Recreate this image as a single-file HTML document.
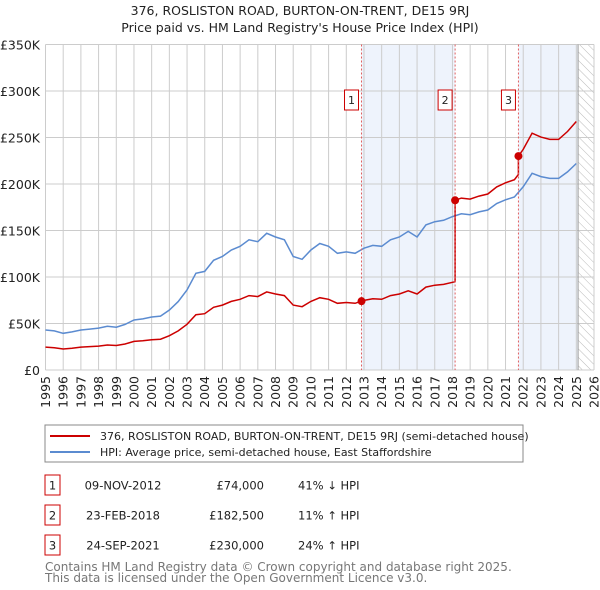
<!DOCTYPE html>
<html><head><meta charset="utf-8"><style>
body{margin:0;background:#fff;font-family:"Liberation Sans","DejaVu Sans",sans-serif;}
#wrap{position:relative;width:600px;height:590px;overflow:hidden;}
svg text{font-family:"DejaVu Sans","Liberation Sans",sans-serif;}
</style></head><body><div id="wrap">
<svg id="chart" width="600" height="590">
<defs><pattern id="hatch" width="6" height="6" patternUnits="userSpaceOnUse" patternTransform="rotate(-45)"><line x1="0" y1="0" x2="0" y2="6" stroke="#bbb" stroke-width="1"/></pattern></defs>
<text x="300" y="15" text-anchor="middle" font-size="12.5" fill="#222">376, ROSLISTON ROAD, BURTON-ON-TRENT, DE15 9RJ</text>
<text x="300" y="32" text-anchor="middle" font-size="12.5" fill="#222">Price paid vs. HM Land Registry's House Price Index (HPI)</text>
<g id="bg"></g><g id="grid"></g><g id="series"></g><g id="marks"></g><g id="axes"></g>
<rect x="45" y="425" width="478" height="37" fill="#fff" stroke="#888"/>
<line x1="50" y1="436" x2="90" y2="436" stroke="#cc0000" stroke-width="2"/>
<text x="100" y="440" font-size="11" fill="#222">376, ROSLISTON ROAD, BURTON-ON-TRENT, DE15 9RJ (semi-detached house)</text>
<line x1="50" y1="452" x2="90" y2="452" stroke="#5b8bd0" stroke-width="2"/>
<text x="100" y="456" font-size="11" fill="#222">HPI: Average price, semi-detached house, East Staffordshire</text>
<g id="table" font-size="11.5" fill="#222"></g>
<text x="45" y="571" font-size="12" fill="#777">Contains HM Land Registry data © Crown copyright and database right 2025.</text>
<text x="45" y="582" font-size="12" fill="#777">This data is licensed under the Open Government Licence v3.0.</text>
</svg></div>
<script>
const hpiYears=[1995,1995.5,1996,1996.5,1997,1997.5,1998,1998.5,1999,1999.5,2000,2000.5,2001,2001.5,2002,2002.5,2003,2003.5,2004,2004.5,2005,2005.5,2006,2006.5,2007,2007.5,2008,2008.5,2009,2009.5,2010,2010.5,2011,2011.5,2012,2012.5,2013,2013.5,2014,2014.5,2015,2015.5,2016,2016.5,2017,2017.5,2018,2018.5,2019,2019.5,2020,2020.5,2021,2021.5,2022,2022.5,2023,2023.5,2024,2024.5,2025];
const hpiValues=[43,42,39.5,41,43,44,45,47,46,49,53.8,55,57,58,64.5,73.5,86,104,106,118,122,129,133,140,138,147,143,140,122,119,129,136,133,125.5,127,125.5,131,134,133,140,143,149,143,156,159.5,161,165,168,167,170,172,179,183,186,197,211.5,208,206,206,213,222];
const saleYears=[2012.86,2018.15,2021.73];
const salePrices=[74,182.5,230];
const saleLabels=["1","2","3"];
const saleDates=["09-NOV-2012","23-FEB-2018","24-SEP-2021"];
const salePriceText=["£74,000","£182,500","£230,000"];
const saleHpiText=["41% ↓ HPI","11% ↑ HPI","24% ↑ HPI"];
const yTicks=[0,50,100,150,200,250,300,350];
const yTickLabels=["£0","£50K","£100K","£150K","£200K","£250K","£300K","£350K"];
const xTicks=[1995,1996,1997,1998,1999,2000,2001,2002,2003,2004,2005,2006,2007,2008,2009,2010,2011,2012,2013,2014,2015,2016,2017,2018,2019,2020,2021,2022,2023,2024,2025,2026];
const NS="http://www.w3.org/2000/svg";
const X0=45.5,X1=594,Y0=370,Y1=44.5;
const xs=v=>X0+(v-1995)*(X1-X0)/31;
const ys=v=>Y0-v*(Y0-Y1)/350;
function mk(tag,attrs,parent){const e=document.createElementNS(NS,tag);for(const k in attrs)e.setAttribute(k,attrs[k]);document.getElementById(parent).appendChild(e);return e;}
function hpiAt(t){for(let i=0;i<hpiYears.length-1;i++){if(t<=hpiYears[i+1]){const f=(t-hpiYears[i])/(hpiYears[i+1]-hpiYears[i]);return hpiValues[i]+f*(hpiValues[i+1]-hpiValues[i]);}}return hpiValues[hpiValues.length-1];}
let s1=mk('rect',{x:xs(saleYears[0]),y:Y1,width:xs(saleYears[1])-xs(saleYears[0]),height:Y0-Y1,fill:'#eef3fc'},'bg');


let s2=mk('rect',{x:xs(saleYears[2]),y:Y1,width:xs(2025.1)-xs(saleYears[2]),height:Y0-Y1,fill:'#eef3fc'},'bg');


let h=mk('rect',{x:xs(2025.1),y:Y1,width:X1-xs(2025.1),height:Y0-Y1,fill:'url(#hatch)'},'bg');


yTicks.forEach((v,i)=>{
 let l=mk('line',{x1:X0,x2:X1,y1:ys(v),y2:ys(v),stroke:'#ccc','stroke-width':1},'grid');
 
 
 let t=mk('text',{x:40,y:ys(v)+5,'text-anchor':'end','font-size':12.5,fill:'#222'},'axes');
 t.textContent=yTickLabels[i];
 
 
});
xTicks.forEach(v=>{
 let l=mk('line',{x1:xs(v),x2:xs(v),y1:Y1,y2:Y0,stroke:'#ccc','stroke-width':1},'grid');
 
 
 let t=mk('text',{x:0,y:0,'text-anchor':'end','font-size':12.5,fill:'#222',transform:`translate(${xs(v)+4.5},376) rotate(-90)`},'axes');
 t.textContent=v;
 
 
});
let ax=mk('line',{x1:xs(2025.1),x2:xs(2025.1),y1:Y1,y2:Y0,stroke:'#999','stroke-width':1},'grid');


let hp=mk('path',{d:hpiYears.map((y,i)=>(i?'L':'M')+xs(y).toFixed(1)+','+ys(hpiValues[i]).toFixed(1)).join(''),fill:'none',stroke:'#5b8bd0','stroke-width':1.5},'series');


let pts=[];
const bounds=[1995,...saleYears,2025];
for(let s=0;s<=saleYears.length;s++){
 const ref=s===0?0:s-1;
 const ratio=salePrices[ref]/hpiAt(saleYears[ref]);
 const a=bounds[s],b=bounds[s+1];
 const ts=[a,...hpiYears.filter(y=>y>a&&y<b),b];
 ts.forEach(t=>{pts.push([t,hpiAt(t)*ratio]);});
 if(s<saleYears.length)pts.push([saleYears[s],salePrices[s]]);
}
let rp=mk('path',{d:pts.map((p,i)=>(i?'L':'M')+xs(p[0]).toFixed(1)+','+ys(p[1]).toFixed(1)).join(''),fill:'none',stroke:'#cc0000','stroke-width':1.5},'series');


saleYears.forEach((y,i)=>{
 let l=mk('line',{x1:xs(y),x2:xs(y),y1:Y1,y2:Y0,stroke:'#e06060','stroke-width':1,'stroke-dasharray':'2,2'},'marks');
 
 
 let d=mk('circle',{cx:xs(y),cy:ys(salePrices[i]),r:4,fill:'#cc0000'},'marks');
 
 
 let b=mk('rect',{x:xs(y)-17,y:90,width:14,height:20,fill:'#fff',stroke:'#cc0000'},'marks');
 
 
 let t=mk('text',{x:xs(y)-10,y:104,'text-anchor':'middle','font-size':11,fill:'#222'},'marks');
 t.textContent=saleLabels[i];
 
 
 const ry=475+i*30;
 let tb=mk('rect',{x:45,y:ry,width:15,height:20,fill:'#fff',stroke:'#cc0000'},'table');
 
 
 const cells=[[52.5,'middle',saleLabels[i],'table-index'],[123,'middle',saleDates[i],'table-date'],[264,'end',salePriceText[i],'table-price'],[298,'start',saleHpiText[i],'table-hpi-diff']];
 cells.forEach(c=>{let e=mk('text',{x:c[0],y:ry+14.5,'text-anchor':c[1]},'table');e.textContent=c[2];
 
 });
});
</script></body></html>
